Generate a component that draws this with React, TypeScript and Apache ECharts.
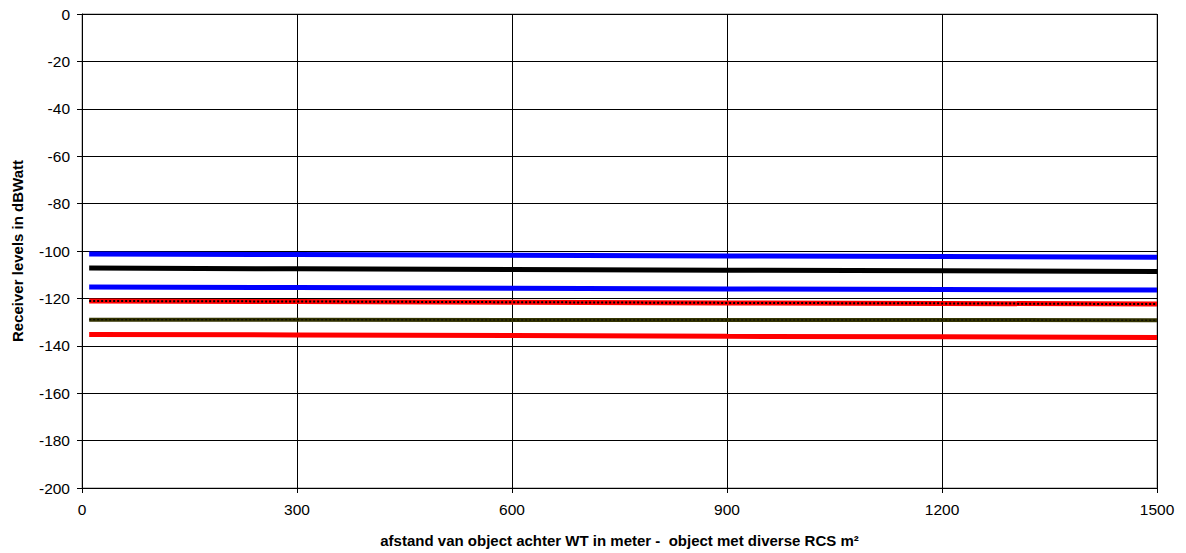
import React, { useEffect, useRef } from "react";
import * as echarts from "echarts";

const distances = [10, 300, 600, 900, 1200, 1500];
const blueUpper = [-101.3, -101.5, -101.8, -102.1, -102.3, -102.6];
const blackLevel = [-107.2, -107.5, -107.8, -108.1, -108.3, -108.6];
const blueLower = [-115.2, -115.4, -115.7, -116.0, -116.2, -116.5];
const redDashed = [-121.1, -121.3, -121.6, -121.9, -122.1, -122.4];
const oliveLevel = [-129.0, -129.0, -129.1, -129.1, -129.1, -129.2];
const redLower = [-135.2, -135.4, -135.7, -136.0, -136.2, -136.5];

const xTicks = [0, 300, 600, 900, 1200, 1500];
const yMin = -200;
const yMax = 0;

const pairs = (ys: number[]) => distances.map((d, i) => [d, ys[i]]);

export default function App() {
  const ref = useRef<HTMLDivElement>(null);
  useEffect(() => {
    if (!ref.current) return;
    const chart = echarts.init(ref.current, null, { renderer: "svg" });
    const font = "'Liberation Sans', Arial, sans-serif";
    const line = (name: string, ys: number[], color: string, width: number, type: any = "solid", z = 2) => ({
      name,
      type: "line",
      data: pairs(ys),
      symbol: "none",
      z,
      lineStyle: { color, width, type },
    });
    chart.setOption({
      animation: false,
      grid: {
        left: 82,
        right: 29,
        top: 14,
        bottom: 65,
        show: true,
        borderColor: "#888",
        borderWidth: 1,
      },
      xAxis: {
        type: "value",
        min: xTicks[0],
        max: xTicks[xTicks.length - 1],
        interval: 300,
        name: "afstand van object achter WT in meter -  object met diverse RCS m²",
        nameLocation: "middle",
        nameGap: 45,
        nameTextStyle: { fontFamily: font, fontSize: 15, fontWeight: "bold", color: "#000" },
        axisLine: { show: true, onZero: false, lineStyle: { color: "#000", width: 1 } },
        axisTick: { show: true, inside: false, length: 5, lineStyle: { color: "#000" } },
        axisLabel: { fontFamily: font, fontSize: 15.5, color: "#000", margin: 13, formatter: (v: number) => String(v) },
        splitLine: { show: true, lineStyle: { color: "#000", width: 1 } },
      },
      yAxis: {
        type: "value",
        min: yMin,
        max: yMax,
        interval: 20,
        name: "Receiver levels in dBWatt",
        nameLocation: "middle",
        nameGap: 57,
        nameTextStyle: { fontFamily: font, fontSize: 15, fontWeight: "bold", color: "#000" },
        axisLine: { show: true, onZero: false, lineStyle: { color: "#000", width: 1 } },
        axisTick: { show: true, inside: false, length: 5, lineStyle: { color: "#000" } },
        axisLabel: { fontFamily: font, fontSize: 15.5, color: "#000", margin: 12, formatter: (v: number) => String(v) },
        splitLine: { show: true, lineStyle: { color: "#000", width: 1 } },
      },
      series: [
        line("blue upper", blueUpper, "#0000ff", 5),
        line("black", blackLevel, "#000000", 5),
        line("blue lower", blueLower, "#0000ff", 5),
        line("red dashed", redDashed, "#ff0000", 5),
        line("red dashed overlay", redDashed, "#000000", 2, [2, 2], 3),
        line("olive", oliveLevel, "#333300", 4),
        line("olive overlay", oliveLevel, "#000000", 1, [2, 2], 3),
        line("red lower", redLower, "#ff0000", 5),
      ],
    });
    return () => chart.dispose();
  }, []);
  return <div ref={ref} style={{ width: 1186, height: 553, position: "absolute", left: 0, top: 0 }} />;
}
